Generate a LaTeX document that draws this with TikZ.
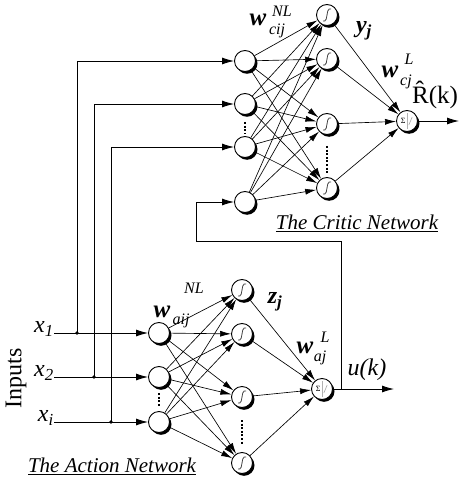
\documentclass[tikz,border=0pt]{standalone}
\usepackage{fontspec}
\setmainfont{Liberation Serif}
\usetikzlibrary{arrows.meta,shadows}

\begin{document}
\begin{tikzpicture}[x=1pt,y=-1pt,
  neuron/.style={circle, draw, line width=0.9pt, fill=white,
    minimum size=21pt, inner sep=0pt,
    drop shadow={shadow xshift=2pt, shadow yshift=-2.3pt, opacity=1, fill=black}},
  sigunit/.style={neuron, path picture={
    \draw[line width=0.8pt, black!75]
      ([xshift=-4pt,yshift=-6pt]path picture bounding box.center)
      -- ([xshift=-2.2pt,yshift=-6pt]path picture bounding box.center)
      .. controls +(2.6pt,0pt) and +(-2.6pt,0pt) ..
      ([xshift=2.2pt,yshift=6pt]path picture bounding box.center)
      -- ([xshift=4pt,yshift=6pt]path picture bounding box.center);}},
  sumunit/.style={neuron, path picture={
    \node[inner sep=0pt, font=\fontsize{8}{8}\selectfont]
      at ([xshift=-3.8pt]path picture bounding box.center) {Σ};
    \draw[gray!60, line width=0.6pt]
      ([yshift=-8pt]path picture bounding box.center) --
      ([yshift=8pt]path picture bounding box.center);
    \draw[gray!70, line width=0.6pt]
      ([xshift=1.8pt,yshift=-4pt]path picture bounding box.center) --
      ([xshift=5.2pt,yshift=4pt]path picture bounding box.center);}},
  conn/.style={line width=0.65pt, -{Latex[length=11pt,width=6pt]}},
  inarr/.style={line width=0.9pt, -{Latex[length=12pt,width=7pt]}},
  dotcol/.style={line width=2.4pt, dash pattern=on 2pt off 1.6pt},
  bigtxt/.style={inner sep=0pt, font=\fontsize{24}{24}\selectfont\itshape},
  wtxt/.style={inner sep=0pt, font=\fontsize{25}{25}\selectfont\bfseries\itshape},
  subtxt/.style={inner sep=0pt, font=\fontsize{16}{16}\selectfont\itshape},
  title/.style={inner sep=0pt, font=\fontsize{21}{21}\selectfont\itshape}]

\useasboundingbox (0,0) rectangle (460,481);

% ---------------- critic network ----------------
\node[neuron] (c1) at (245,61) {};
\node[neuron] (c2) at (245,104) {};
\node[neuron] (c3) at (245,147) {};
\node[neuron] (c4) at (245,202) {};

\node[sigunit] (ch1) at (327,15) {};
\node[sigunit] (ch2) at (327,59) {};
\node[sigunit] (ch3) at (327,124) {};
\node[sigunit] (ch4) at (327,188) {};

\node[sumunit] (cout) at (407,121) {};

\foreach \i in {1,...,4}
  \foreach \j in {1,...,4}
    \draw[conn] (c\i) -- (ch\j);
\foreach \j in {1,...,4}
  \draw[conn] (ch\j) -- (cout);

\draw[dotcol] (245,122) -- (245,134);
\draw[dotcol] (327,146) -- (327,174);

\coordinate (rout) at (459,121);
\draw[inarr] (cout) -- (rout);

% ---------------- action network ----------------
\node[neuron] (a1) at (159,333) {};
\node[neuron] (a2) at (159,377) {};
\node[neuron] (a3) at (159,422) {};

\node[sigunit] (ah1) at (242,290) {};
\node[sigunit] (ah2) at (242,334) {};
\node[sigunit] (ah3) at (242,397) {};
\node[sigunit] (ah4) at (242,463) {};

\node[sumunit] (aout) at (322,389) {};

\foreach \i in {1,...,3}
  \foreach \j in {1,...,4}
    \draw[conn] (a\i) -- (ah\j);
\foreach \j in {1,...,4}
  \draw[conn] (ah\j) -- (aout);

\draw[dotcol] (159,393) -- (159,406);
\draw[dotcol] (242,420) -- (242,445);

\coordinate (uout) at (394,389);
\draw[inarr] (aout) -- (uout);

% ---------------- inputs ----------------
\node[bigtxt, anchor=east] (lx1) at (54,329) {x\textsubscript{1}};
\node[bigtxt, anchor=east] (lx2) at (54,373) {x\textsubscript{2}};
\node[bigtxt, anchor=east] (lx3) at (54,418) {x\textsubscript{i}};
\node[inner sep=0pt, rotate=90, font=\fontsize{24}{24}\selectfont] (inp) at (16,378) {Inputs};

\draw[inarr] (lx1.east |- a1) -- (a1);
\draw[inarr] (lx2.east |- a2) -- (a2);
\draw[inarr] (lx3.east |- a3) -- (a3);

\coordinate (j1) at (77,333);
\coordinate (j2) at (94,377);
\coordinate (j3) at (111,422);
\foreach \k in {1,2,3} \fill (j\k) circle (1.9pt);
\draw[inarr] (j1) |- (c1);
\draw[inarr] (j2) |- (c2);
\draw[inarr] (j3) |- (c3);

% feedback of u(k) into the critic
\coordinate (fb) at (341,389);
\coordinate (fbtr) at (341,241);
\coordinate (fbtl) at (196,241);
\draw[inarr] (fb) -- (fbtr) -- (fbtl) |- (c4);

% ---------------- labels ----------------
\node[wtxt] (wc) at (258,20) {w};
\node[subtxt] (wcsub) at (277,31) {cij};
\node[subtxt] (wcsup) at (282,11) {NL};

\node[inner sep=0pt, font=\fontsize{24}{24}\selectfont\bfseries\itshape] (yj) at (364,31) {y\textsubscript{j}};

\node[wtxt] (wcl) at (390,72) {w};
\node[subtxt] (wclsub) at (406,82) {cj};
\node[subtxt] (wclsup) at (409,59) {L};

\node[inner sep=0pt, anchor=west, font=\fontsize{25}{25}\selectfont] (rhat) at (412,95) {\^{R}(k)};

\node[wtxt] (wa) at (162,312) {w};
\node[subtxt] (wasub) at (181,321) {aij};
\node[subtxt] (wasup) at (194,288) {NL};

\node[inner sep=0pt, font=\fontsize{24}{24}\selectfont\bfseries\itshape] (zj) at (275,302) {z\textsubscript{j}};

\node[wtxt] (wal) at (305,348) {w};
\node[subtxt] (walsub) at (320,358) {aj};
\node[subtxt] (walsup) at (325,337) {L};

\node[bigtxt] (uk) at (367,370) {u(k)};

\node[title] (tcrit) at (357,223) {\underline{The Critic Network}};
\node[title] (tact) at (112,466) {\underline{The Action Network}};

\end{tikzpicture}
\end{document}
